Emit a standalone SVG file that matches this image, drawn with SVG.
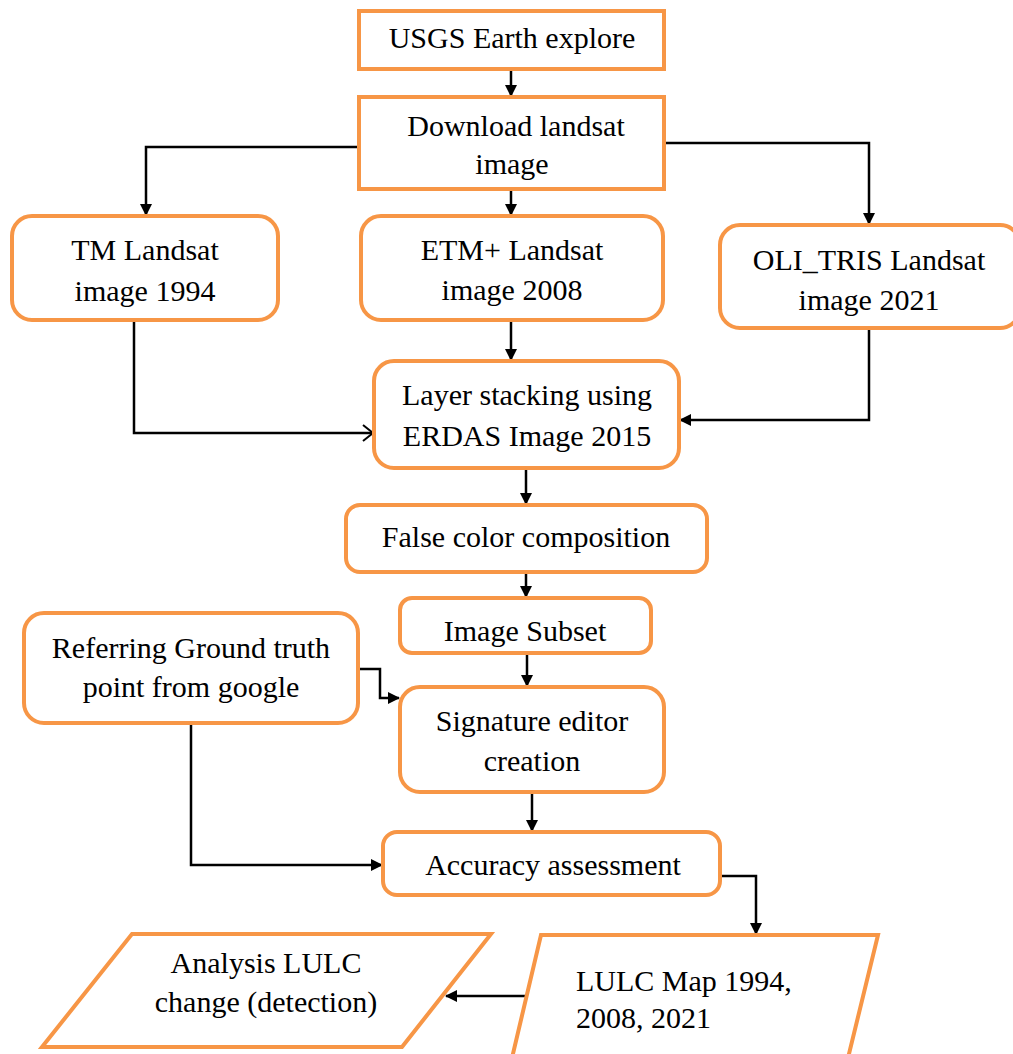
<svg xmlns="http://www.w3.org/2000/svg" width="1013" height="1054" viewBox="0 0 1013 1054">
<style>
.box{fill:#fff;stroke:#F79646;stroke-width:4}
text{font-family:'Liberation Serif','Times New Roman','DejaVu Serif',serif;font-size:30px;fill:#000;text-anchor:middle}
.c{fill:none;stroke:#000;stroke-width:2.5}
</style>
<defs>
<marker id="a" markerWidth="12" markerHeight="12" refX="11" refY="6" orient="auto" markerUnits="userSpaceOnUse" viewBox="0 0 12 12"><path d="M0,0 L12,6 L0,12 Z" fill="#000"/></marker>
<marker id="o" markerWidth="12" markerHeight="18" refX="11" refY="9" orient="auto" markerUnits="userSpaceOnUse" viewBox="0 0 12 18"><path d="M1,1 L11,9 L1,17" fill="none" stroke="#000" stroke-width="2"/></marker>
</defs>
<rect width="1013" height="1054" fill="#fff"/>
<g id="connectors">
<path class="c" d="M511,69 V96" marker-end="url(#a)"/>
<path class="c" d="M359,147 H146 V215" marker-end="url(#a)"/>
<path class="c" d="M664,143 H869 V224" marker-end="url(#a)"/>
<path class="c" d="M511,189 V215" marker-end="url(#a)"/>
<path class="c" d="M511,322 V360" marker-end="url(#a)"/>
<path class="c" d="M134,322 V433 H373" marker-end="url(#o)"/>
<path class="c" d="M869,330 V420 H680" marker-end="url(#a)"/>
<path class="c" d="M526,470 V504" marker-end="url(#a)"/>
<path class="c" d="M526,574 V597" marker-end="url(#a)"/>
<path class="c" d="M527,655 V686" marker-end="url(#a)"/>
<path class="c" d="M358,669 H380 V698 H399" marker-end="url(#a)"/>
<path class="c" d="M191,725 V865 H382" marker-end="url(#a)"/>
<path class="c" d="M532,794 V831" marker-end="url(#a)"/>
<path class="c" d="M720,876 H756 V934" marker-end="url(#a)"/>
<path class="c" d="M527,996 H446" marker-end="url(#a)"/>
</g>
<g id="usgs"><rect class="box" x="359" y="11" width="305" height="58"/><text x="512" y="48">USGS Earth explore</text></g>
<g id="download"><rect class="box" x="359" y="97" width="305" height="92"/><text x="516" y="136">Download landsat</text><text x="512" y="174">image</text></g>
<g id="tm"><rect class="box" x="12" y="216" width="266" height="104" rx="20"/><text x="145" y="260">TM Landsat</text><text x="145" y="301">image 1994</text></g>
<g id="etm"><rect class="box" x="361" y="216" width="302" height="104" rx="20"/><text x="512" y="260">ETM+ Landsat</text><text x="512" y="300">image 2008</text></g>
<g id="oli"><rect class="box" x="720" y="225" width="300" height="103" rx="20"/><text x="869" y="270">OLI_TRIS Landsat</text><text x="869" y="310">image 2021</text></g>
<g id="layer"><rect class="box" x="374" y="361" width="305" height="107" rx="20"/><text x="527" y="405">Layer stacking using</text><text x="527" y="446">ERDAS Image 2015</text></g>
<g id="false"><rect class="box" x="346" y="505" width="361" height="67" rx="14"/><text x="526" y="547">False color composition</text></g>
<g id="subset"><rect class="box" x="400" y="598" width="251" height="55" rx="12"/><text x="525" y="641">Image Subset</text></g>
<g id="referring"><rect class="box" x="24" y="613" width="334" height="110" rx="20"/><text x="191" y="658">Referring Ground truth</text><text x="191" y="697">point from google</text></g>
<g id="signature"><rect class="box" x="400" y="687" width="264" height="105" rx="20"/><text x="532" y="731">Signature editor</text><text x="532" y="771">creation</text></g>
<g id="accuracy"><rect class="box" x="383" y="832" width="337" height="63" rx="14"/><text x="553" y="875">Accuracy assessment</text></g>
<g id="lulc"><path class="box" d="M541,935 H878 L848,1058 H512 Z"/><text x="576" y="991" style="text-anchor:start">LULC Map 1994,</text><text x="576" y="1028" style="text-anchor:start">2008, 2021</text></g>
<g id="analysis"><path class="box" d="M132,934 H491 L402,1047 H42 Z"/><text x="266" y="973">Analysis LULC</text><text x="266" y="1012">change (detection)</text></g>
</svg>
